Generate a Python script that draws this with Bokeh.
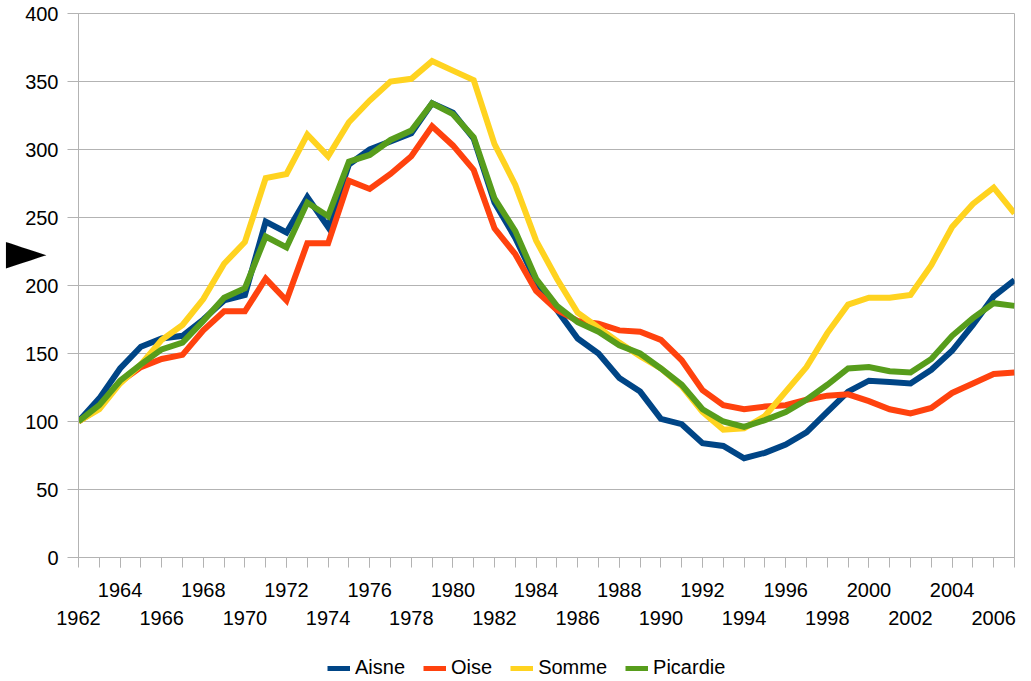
from bokeh.plotting import figure
from bokeh.models import (Range1d, FixedTicker, LinearAxis, Legend, LegendItem,
                          ColumnDataSource)
from bokeh.layouts import column
from bokeh.embed import file_html
from bokeh.resources import INLINE

years = list(range(1962, 2008))

aisne = [100, 117, 139, 155, 161, 163, 175, 189, 193, 247,
         239, 265, 243, 289, 300, 306, 312, 334, 327, 308,
         261, 235, 203, 182, 161, 150, 132, 122, 102, 98,
         84, 82, 73, 77, 83, 92, 107, 122, 130, 129,
         128, 138, 152, 171, 192, 204]
oise = [100, 110, 129, 140, 146, 149, 167, 181, 181, 205,
        189, 231, 231, 277, 271, 282, 295, 317, 303, 285,
        242, 223, 196, 182, 174, 172, 167, 166, 160, 145,
        123, 112, 109, 111, 112, 116, 119, 120, 115, 109,
        106, 110, 121, 128, 135, 136]
somme = [100, 109, 128, 142, 160, 171, 190, 216, 232, 279,
         282, 311, 295, 320, 336, 350, 352, 365, 358, 351,
         304, 274, 233, 205, 180, 169, 158, 148, 139, 126,
         107, 94, 95, 104, 122, 140, 165, 186, 191, 191,
         193, 215, 243, 260, 272, 253]
picardie = [100, 112, 130, 142, 153, 158, 174, 191, 198, 236,
            228, 261, 251, 291, 296, 307, 314, 334, 326, 309,
            264, 240, 205, 185, 173, 166, 156, 150, 139, 127,
            109, 100, 96, 101, 107, 116, 127, 139, 140, 137,
            136, 146, 163, 176, 187, 185]

series_names = ["Aisne", "Oise", "Somme", "Picardie"]
series_values = [aisne, oise, somme, picardie]
colors = ["#004586", "#ff420e", "#ffd320", "#579d1c"]

y_ticks = [0, 50, 100, 150, 200, 250, 300, 350, 400]
x_labels_upper = list(range(1964, 2007, 4))
x_labels_lower = list(range(1962, 2007, 4))

# position of the black pointer drawn at the left of the chart
pointer_at = [225.5]

FONT = "Liberation Sans"
GRID = "#b3b3b3"

p = figure(width=1024, height=645, output_backend="svg", toolbar_location=None,
           x_range=Range1d(1962, 2007), y_range=Range1d(0, 400),
           min_border_left=78, min_border_right=10, min_border_top=13,
           min_border_bottom=88, x_axis_location=None, y_axis_location=None)
p.background_fill_color = "white"
p.border_fill_color = "white"
p.outline_line_color = GRID
p.xgrid.visible = False

# y axis
yax = LinearAxis(ticker=FixedTicker(ticks=y_ticks, minor_ticks=[]))
yax.axis_line_color = GRID
yax.major_tick_line_color = GRID
yax.major_tick_out = 11
yax.major_tick_in = 0
yax.minor_tick_line_color = None
yax.major_label_text_font = FONT
yax.major_label_text_font_size = "20px"
yax.major_label_text_color = "black"
yax.major_label_standoff = 9
p.add_layout(yax, "left")

# pointer (black triangle) as an extra left axis label
pax = LinearAxis(ticker=FixedTicker(ticks=pointer_at, minor_ticks=[]))
pax.axis_line_color = None
pax.major_tick_line_color = None
pax.minor_tick_line_color = None
pax.major_tick_out = 0
pax.major_tick_in = 0
pax.major_label_overrides = {pointer_at[0]: "\u25BA"}
pax.major_label_text_font = "DejaVu Sans"
pax.major_label_text_font_size = "53px"
pax.major_label_text_color = "black"
pax.major_label_standoff = -24
p.add_layout(pax, "left")

p.ygrid.ticker = FixedTicker(ticks=y_ticks)
p.ygrid.grid_line_color = GRID

# x axis upper row
xax1 = LinearAxis(ticker=FixedTicker(ticks=x_labels_upper, minor_ticks=years))
xax1.axis_line_color = GRID
xax1.major_tick_line_color = GRID
xax1.minor_tick_line_color = GRID
xax1.major_tick_out = 10
xax1.major_tick_in = 0
xax1.minor_tick_out = 10
xax1.minor_tick_in = 0
xax1.major_label_text_font = FONT
xax1.major_label_text_font_size = "20px"
xax1.major_label_text_color = "black"
xax1.major_label_standoff = 15
p.add_layout(xax1, "below")

# x axis lower row
xax2 = LinearAxis(ticker=FixedTicker(ticks=x_labels_lower, minor_ticks=[]))
xax2.axis_line_color = None
xax2.major_tick_line_color = None
xax2.minor_tick_line_color = None
xax2.major_tick_out = 0
xax2.major_tick_in = 0
xax2.major_label_text_font = FONT
xax2.major_label_text_font_size = "20px"
xax2.major_label_text_color = "black"
xax2.major_label_standoff = 11
p.add_layout(xax2, "below")

# legend figure (lines there fall outside its ranges; only legend shows)
lf = figure(width=1024, height=36, output_backend="svg", toolbar_location=None,
            x_range=Range1d(0, 1), y_range=Range1d(0, 1),
            min_border_left=0, min_border_right=0, min_border_top=0,
            min_border_bottom=0, x_axis_location=None, y_axis_location=None)
lf.outline_line_color = None
lf.grid.visible = False
lf.background_fill_color = "white"
lf.border_fill_color = "white"

items = []
for name, vals, col in zip(series_names, series_values, colors):
    src = ColumnDataSource(dict(x=years, y=vals))
    p.line("x", "y", source=src, line_color=col, line_width=6,
           line_join="miter")
    r2 = lf.line("x", "y", source=src, line_color=col, line_width=5)
    items.append(LegendItem(label=name, renderers=[r2]))

legend = Legend(items=items, orientation="horizontal", location=(249, 2),
                label_text_font=FONT, label_text_font_size="20px",
                label_text_color="black", glyph_width=23, glyph_height=20,
                spacing=18, label_standoff=5, border_line_color=None,
                background_fill_alpha=0, padding=0, margin=0)
lf.add_layout(legend)

layout = column(p, lf, spacing=0)
open("out.html", "w").write(file_html(layout, INLINE))
